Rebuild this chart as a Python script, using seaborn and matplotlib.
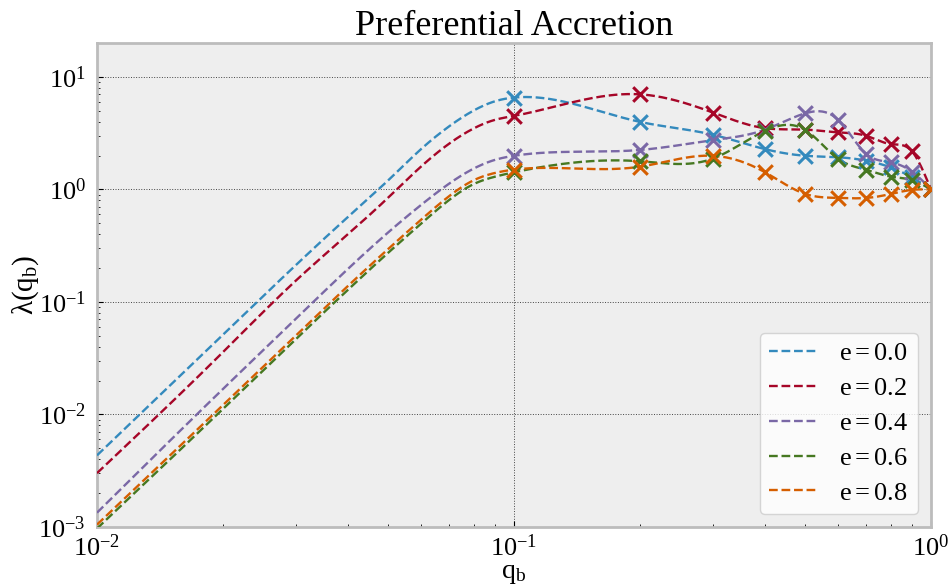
import numpy as np
import pandas as pd
import matplotlib
matplotlib.use("Agg")
import matplotlib.pyplot as plt
from matplotlib.ticker import NullFormatter, LogLocator
import seaborn as sns

# Mass ratios: power-law extension below q_b = 0.1, simulated runs from 0.1 to 1.0
q_ext = [0.01, 0.02, 0.03, 0.04, 0.05, 0.06, 0.07, 0.08, 0.09]
q_sim = [0.1, 0.2, 0.3, 0.4, 0.5, 0.6, 0.7, 0.8, 0.9, 1.0]

eccentricities = ["0.0", "0.2", "0.4", "0.6", "0.8"]

# lambda(q_b) on the extension grid
ext_e00 = [4.33e-3, 0.0507, 0.213, 0.57, 1.21, 2.30, 3.65, 5.02, 6.07]
ext_e02 = [3.01e-3, 0.0355, 0.155, 0.40, 0.85, 1.61, 2.56, 3.48, 4.15]
ext_e04 = [1.34e-3, 0.0167, 0.071, 0.197, 0.417, 0.733, 1.13, 1.53, 1.83]
ext_e06 = [0.97e-3, 0.0111, 0.0469, 0.1285, 0.275, 0.50, 0.809, 1.114, 1.297]
ext_e08 = [1.05e-3, 0.0120, 0.0504, 0.139, 0.297, 0.542, 0.875, 1.205, 1.40]

# lambda(q_b) from the simulations
sim_e00 = [6.55, 3.99, 3.06, 2.28, 1.99, 1.93, 1.80, 1.57, 1.28, 1.0]
sim_e02 = [4.50, 7.00, 4.82, 3.50, 3.40, 3.21, 2.99, 2.53, 2.18, 1.0]
sim_e04 = [1.99, 2.24, 2.74, 3.40, 4.75, 4.13, 2.06, 1.74, 1.44, 1.0]
sim_e06 = [1.42, 1.78, 1.88, 3.32, 3.37, 1.86, 1.49, 1.30, 1.21, 1.0]
sim_e08 = [1.50, 1.59, 1.99, 1.42, 0.91, 0.84, 0.84, 0.91, 0.99, 1.0]

ext_vals = [ext_e00, ext_e02, ext_e04, ext_e06, ext_e08]
sim_vals = [sim_e00, sim_e02, sim_e04, sim_e06, sim_e08]
colors = ["#348ABD", "#A60628", "#7A68A6", "#467821", "#D55E00"]


def natural_spline(x, y, xs):
    """Natural cubic spline through (x, y), evaluated at xs."""
    x = np.asarray(x, float)
    y = np.asarray(y, float)
    n = len(x)
    h = np.diff(x)
    A = np.zeros((n, n))
    b = np.zeros(n)
    A[0, 0] = A[-1, -1] = 1.0
    for i in range(1, n - 1):
        A[i, i - 1] = h[i - 1]
        A[i, i] = 2 * (h[i - 1] + h[i])
        A[i, i + 1] = h[i]
        b[i] = 3 * ((y[i + 1] - y[i]) / h[i] - (y[i] - y[i - 1]) / h[i - 1])
    c = np.linalg.solve(A, b)
    bb = (y[1:] - y[:-1]) / h - h * (2 * c[:-1] + c[1:]) / 3
    d = (c[1:] - c[:-1]) / (3 * h)
    idx = np.clip(np.searchsorted(x, xs) - 1, 0, n - 2)
    dx = xs - x[idx]
    return y[idx] + bb[idx] * dx + c[idx] * dx ** 2 + d[idx] * dx ** 3


sns.set_theme(style="whitegrid")
plt.rcParams.update({
    "font.family": ["Liberation Serif", "DejaVu Serif"],
    "mathtext.fontset": "custom",
    "mathtext.rm": "Liberation Serif",
    "mathtext.it": "Liberation Serif",
    "mathtext.bf": "Liberation Serif:bold",
    "mathtext.default": "rm",
    "text.color": "black",
    "axes.labelcolor": "black",
    "xtick.color": "black",
    "ytick.color": "black",
    "axes.facecolor": "#eeeeee",
    "axes.edgecolor": "#bcbcbc",
    "axes.linewidth": 2.0,
})

fig = plt.figure(figsize=(9.5, 5.86), dpi=100)
ax = fig.add_axes([0.1021, 0.1007, 0.98 - 0.1021, 0.9266 - 0.1007])

q_all = np.array(q_ext + q_sim)
log_grid = np.linspace(-2, 0, 600)

handles = []
for ecc, ext, sim, col in zip(eccentricities, ext_vals, sim_vals, colors):
    lam_all = np.array(ext + sim)
    curve = pd.DataFrame({
        "q": 10 ** log_grid,
        "lam": 10 ** natural_spline(np.log10(q_all), np.log10(lam_all), log_grid),
    })
    pts = pd.DataFrame({"q": q_sim, "lam": sim})
    sns.lineplot(data=curve, x="q", y="lam", color=col, linestyle="--",
                 linewidth=1.7, ax=ax, legend=False, zorder=3)
    handles.append(ax.lines[-1])
    ax.lines[-1].set_label(rf"$e = {ecc}$")
    sns.scatterplot(data=pts, x="q", y="lam", marker="x", color=col, s=110,
                    linewidth=2.2, ax=ax, legend=False, zorder=4)

ax.set_xscale("log")
ax.set_yscale("log")
ax.set_xlim(0.01, 1.0)
ax.set_ylim(1e-3, 20)

ax.grid(False)
ax.grid(True, which="major", linestyle=":", color="#444444", linewidth=0.7)
ax.set_axisbelow(True)

ax.yaxis.set_minor_locator(LogLocator(base=10, subs=np.arange(2, 10), numticks=20))
ax.xaxis.set_minor_locator(LogLocator(base=10, subs=np.arange(2, 10), numticks=20))
ax.xaxis.set_minor_formatter(NullFormatter())
ax.yaxis.set_minor_formatter(NullFormatter())
ax.tick_params(which="both", direction="in", bottom=True, left=True,
               top=False, right=False)
ax.tick_params(which="major", length=4, width=0.8, labelsize=19)
ax.tick_params(axis="x", which="major", pad=5)
ax.tick_params(axis="y", which="major", pad=8)
ax.tick_params(which="minor", length=2.5, width=0.6)

ax.set_title("Preferential Accretion", fontsize=26, pad=6)
ax.set_xlabel(r"$q_b$", fontsize=20)
ax.xaxis.set_label_coords(0.5, -0.07)
ax.set_ylabel(r"$\lambda(q_b)$", fontsize=21, labelpad=-2)

leg = ax.legend(handles=handles, loc="lower right", fontsize=19, frameon=True,
                fancybox=True, framealpha=0.8, facecolor="white",
                edgecolor="#cccccc", handlelength=1.85, labelspacing=0.43,
                borderpad=0.35)

fig.savefig("out.png", dpi=100)
